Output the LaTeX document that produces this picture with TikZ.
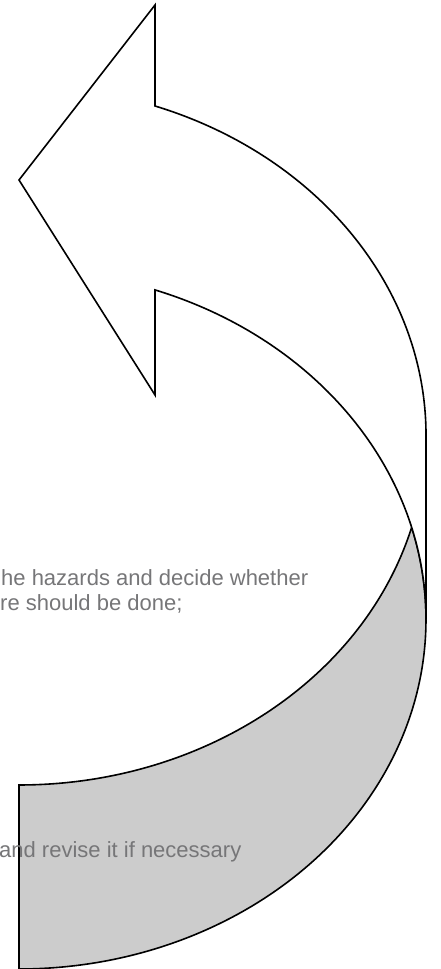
\documentclass[tikz,border=0pt]{standalone}
\usepackage{fontspec}
\setmainfont{Liberation Sans}
\definecolor{backgray}{RGB}{204,204,204}
\definecolor{txtgray}{RGB}{118,118,120}
\begin{document}
\begin{tikzpicture}[x=1pt,y=1pt,
  outline/.style={draw=black,line width=1.6pt,line join=miter},
  lbl/.style={font=\fontsize{22}{26}\selectfont,text=txtgray,inner sep=0pt,anchor=base west}]
\useasboundingbox (0,0) rectangle (441,969);
% back (shaded) part of the curved arrow
\draw[outline,fill=backgray] (19,184) -- (19,0)
  arc[start angle=-90,end angle=15.26,x radius=407pt,y radius=349.6pt]
  arc[start angle=-15.26,end angle=-90,x radius=407pt,y radius=349.6pt] -- cycle;
% front part with arrow head
\draw[outline,fill=white] (155,863)
  arc[start angle=70.48,end angle=0,x radius=407pt,y radius=349.6pt]
  -- (426,349.6)
  arc[start angle=0,end angle=70.48,x radius=407pt,y radius=349.6pt]
  -- (155,574) -- (19,789) -- (155,964) -- cycle;
% texts
\node[lbl] (t1) at (1,383) {he hazards and decide whether};
\node[lbl] (t2) at (0,358) {re should be done;};
\node[lbl] (t3) at (-1,111) {and revise it if necessary};
\end{tikzpicture}
\end{document}
